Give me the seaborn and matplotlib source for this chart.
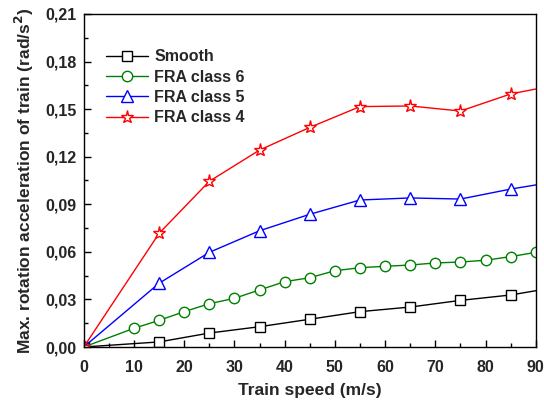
import matplotlib
matplotlib.use("Agg")
import matplotlib.pyplot as plt
from matplotlib.lines import Line2D
import seaborn as sns
import numpy as np
import pandas as pd
from matplotlib.ticker import MultipleLocator, FuncFormatter

# Data
x_smooth = [0, 15, 25, 35, 45, 55, 65, 75, 85, 90]
y_smooth = [0, 0.0032, 0.0088, 0.0128, 0.0175, 0.0223, 0.0252, 0.0294, 0.0328, 0.0355]

x_c6 = [0, 10, 15, 20, 25, 30, 35, 40, 45, 50, 55, 60, 65, 70, 75, 80, 85, 90]
y_c6 = [0, 0.0118, 0.0168, 0.0223, 0.0273, 0.0307, 0.0360, 0.0412, 0.0437, 0.0481,
        0.0500, 0.0509, 0.0517, 0.0530, 0.0536, 0.0547, 0.0570, 0.0597]

x_c5 = [0, 15, 25, 35, 45, 55, 65, 75, 85, 90]
y_c5 = [0, 0.0402, 0.0597, 0.0733, 0.0837, 0.0927, 0.0940, 0.0933, 0.0996, 0.1022]

x_c4 = [0, 15, 25, 35, 45, 55, 65, 75, 85, 90]
y_c4 = [0, 0.0717, 0.1045, 0.1242, 0.1385, 0.1516, 0.1520, 0.1488, 0.1596, 0.1627]

labels = ["Smooth", "FRA class 6", "FRA class 5", "FRA class 4"]
colors = ["black", "#008000", "blue", "red"]
markers = ["s", "o", "^", "*"]
msizes = [6.5, 7.5, 8.5, 9.5]

sns.set_theme(style="ticks")
plt.rcParams['font.family'] = ['Liberation Sans', 'DejaVu Sans']
plt.rcParams['font.weight'] = 'bold'

fig = plt.figure(figsize=(5.44, 4.0), dpi=100)
ax = fig.add_axes([0.154, 0.1325, 0.831, 0.8325])

series = [(x_smooth, y_smooth), (x_c6, y_c6), (x_c5, y_c5), (x_c4, y_c4)]
handles = []
for (xs, ys), lab, c, m, ms in zip(series, labels, colors, markers, msizes):
    df = pd.DataFrame({"x": xs, "y": ys})
    n = len(xs)
    mk = list(range(n)) if lab == "FRA class 6" else list(range(n - 1))
    sns.lineplot(data=df, x="x", y="y", ax=ax, color=c, marker=m, markersize=ms,
                 markerfacecolor="white", markeredgecolor=c, markeredgewidth=1.0,
                 linewidth=1.0, markevery=mk, sort=True, legend=False)
    handles.append(Line2D([], [], color=c, marker=m, markersize=ms,
                          markerfacecolor="white", markeredgecolor=c,
                          markeredgewidth=1.0, linewidth=1.0, label=lab))

ax.set_xlim(0, 90)
ax.set_ylim(0, 0.21)
ax.xaxis.set_major_locator(MultipleLocator(10))
ax.xaxis.set_minor_locator(MultipleLocator(5))
ax.yaxis.set_major_locator(MultipleLocator(0.03))
ax.yaxis.set_minor_locator(MultipleLocator(0.015))
ax.yaxis.set_major_formatter(FuncFormatter(lambda v, p: f"{v:.2f}".replace(".", ",")))
ax.tick_params(which="both", direction="in", top=False, right=False, width=1.0, color="black")
ax.tick_params(which="major", length=5, labelsize=11.5)
ax.tick_params(axis="x", which="major", pad=9)
ax.tick_params(axis="y", which="major", pad=5)
ax.tick_params(which="minor", length=3)
for lab in ax.get_xticklabels() + ax.get_yticklabels():
    lab.set_fontweight("bold")
for s in ax.spines.values():
    s.set_linewidth(1.0)
    s.set_color("black")

ax.set_xlabel("Train speed (m/s)", fontsize=12.5, fontweight="bold", labelpad=6)
ax.set_ylabel("Max. rotation acceleration of train (rad/s$^\\mathbf{2}$)", fontsize=12.5,
              fontweight="bold", labelpad=7)

leg = ax.legend(handles=handles, loc="upper left", bbox_to_anchor=(0.025, 0.928), frameon=False,
                numpoints=1, handlelength=2.6, handletextpad=0.4, labelspacing=0.34,
                borderaxespad=0.3, prop={"weight": "bold", "size": 11.5})

fig.savefig("out.png", dpi=100)
